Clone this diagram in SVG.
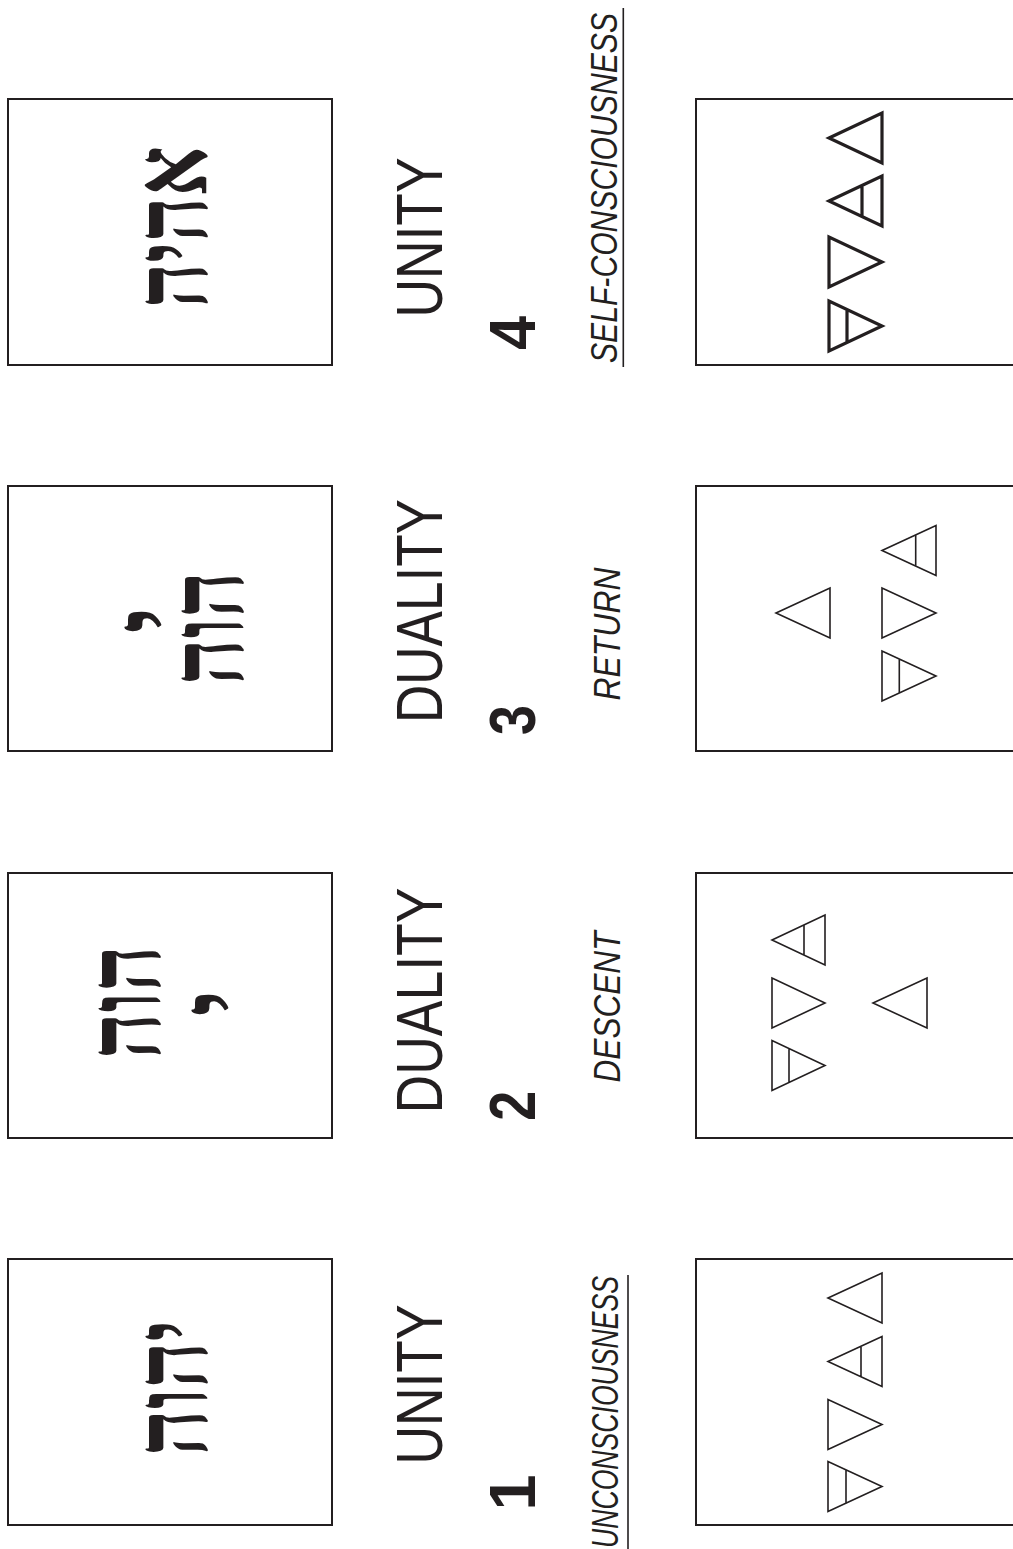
<svg xmlns="http://www.w3.org/2000/svg" width="1013" height="1549" viewBox="0 0 1013 1549">
<style>
.box{fill:#fff;stroke:#231f20;stroke-width:2}
.tri{fill:none;stroke:#231f20;stroke-width:1.6;stroke-linejoin:miter}
.tri4{fill:none;stroke:#231f20;stroke-width:3.2;stroke-linejoin:miter}
.heb{font-family:"Liberation Serif","DejaVu Sans",serif;font-weight:bold;font-size:104px;fill:#231f20;text-anchor:middle}
.big{font-family:"Liberation Sans",Arial,sans-serif;font-size:65px;fill:#231f20;text-anchor:middle}
.num{font-family:"Liberation Sans",Arial,sans-serif;font-size:65px;font-weight:bold;fill:#231f20;text-anchor:middle}
.lab{font-family:"Liberation Sans",Arial,sans-serif;font-size:37px;font-style:italic;fill:#231f20;text-anchor:middle}
.ul{stroke:#231f20;stroke-width:1.6}
</style>
<rect width="1013" height="1549" fill="#fff"/>

<g id="node1">
<rect class="box" x="8" y="1259" width="324" height="266"/>
<text class="heb" transform="translate(207,1388) rotate(-90)" textLength="136" lengthAdjust="spacingAndGlyphs">יהוה</text>
<text class="big" transform="translate(441.5,1384.5) rotate(-90)" textLength="160" lengthAdjust="spacingAndGlyphs">UNITY</text>
<text class="num" transform="translate(535,1492.5) rotate(-90)">1</text>
<text class="lab" transform="translate(617.5,1412) rotate(-90)" textLength="272" lengthAdjust="spacingAndGlyphs">UNCONSCIOUSNESS</text>
<line class="ul" x1="628" y1="1275" x2="628" y2="1549"/>
<rect class="box" x="696" y="1259" width="324" height="266"/>
<path class="tri" d="M828,1298L882,1273L882,1323Z"/>
<path class="tri" d="M828,1361.5L882,1336.5L882,1386.5Z M861,1346.2V1376.8"/>
<path class="tri" d="M828,1399.5L828,1449.5L882,1424.5Z"/>
<path class="tri" d="M828,1461.5L828,1511.5L882,1486.5Z M846,1469.8V1503.2"/>
</g>

<g id="node2">
<rect class="box" x="8" y="873" width="324" height="265"/>
<text class="heb" transform="translate(160,1002) rotate(-90)" textLength="114" lengthAdjust="spacingAndGlyphs">הוה</text>
<text class="heb" transform="translate(253,1003) rotate(-90)">י</text>
<text class="big" transform="translate(441.5,1000.5) rotate(-90)" textLength="226" lengthAdjust="spacingAndGlyphs">DUALITY</text>
<text class="num" transform="translate(535,1105.7) rotate(-90)" textLength="30" lengthAdjust="spacingAndGlyphs">2</text>
<text class="lab" transform="translate(620,1007) rotate(-90)" textLength="151" lengthAdjust="spacingAndGlyphs">DESCENT</text>
<rect class="box" x="696" y="873" width="324" height="265"/>
<path class="tri" d="M772,940L825,915L825,965Z M804,924.9V955.1"/>
<path class="tri" d="M772,978L772,1028L825,1003Z"/>
<path class="tri" d="M873,1003L927,978L927,1028Z"/>
<path class="tri" d="M772,1040.5L772,1090.5L825,1065.5Z M789,1048.5V1082.5"/>
</g>

<g id="node3">
<rect class="box" x="8" y="486" width="324" height="265"/>
<text class="heb" transform="translate(243,628) rotate(-90)" textLength="114" lengthAdjust="spacingAndGlyphs">הוה</text>
<text class="heb" transform="translate(186,620) rotate(-90)">י</text>
<text class="big" transform="translate(441.5,611) rotate(-90)" textLength="224" lengthAdjust="spacingAndGlyphs">DUALITY</text>
<text class="num" transform="translate(535,720) rotate(-90)" textLength="30" lengthAdjust="spacingAndGlyphs">3</text>
<text class="lab" transform="translate(620,634) rotate(-90)" textLength="133" lengthAdjust="spacingAndGlyphs">RETURN</text>
<rect class="box" x="696" y="486" width="324" height="265"/>
<path class="tri" d="M882,550.5L936,525.5L936,575.5Z M915.7,534.9V566.1"/>
<path class="tri" d="M776,613L830,588L830,638Z"/>
<path class="tri" d="M882,588L882,638L936,613Z"/>
<path class="tri" d="M882,651L882,701L936,676Z M899.3,659V693"/>
</g>

<g id="node4">
<rect class="box" x="8" y="99" width="324" height="266"/>
<text class="heb" transform="translate(207,227) rotate(-90)" textLength="162" lengthAdjust="spacingAndGlyphs">אהיה</text>
<text class="big" transform="translate(441.5,237.5) rotate(-90)" textLength="160" lengthAdjust="spacingAndGlyphs">UNITY</text>
<text class="num" transform="translate(535,333) rotate(-90)" textLength="34" lengthAdjust="spacingAndGlyphs">4</text>
<text class="lab" transform="translate(617,188) rotate(-90)" textLength="350" lengthAdjust="spacingAndGlyphs">SELF-CONSCIOUSNESS</text>
<line class="ul" x1="623.3" y1="8" x2="623.3" y2="367"/>
<rect class="box" x="696" y="99" width="324" height="266"/>
<path class="tri4" d="M829,138L882,113L882,163Z"/>
<path class="tri4" d="M829,201L882,176L882,226Z M862,185.4V216.6"/>
<path class="tri4" d="M829,237L829,287L882,262Z"/>
<path class="tri4" d="M829,301L829,351L882,326Z M847,309.5V342.5"/>
</g>

<g id="connectors"></g>
</svg>
